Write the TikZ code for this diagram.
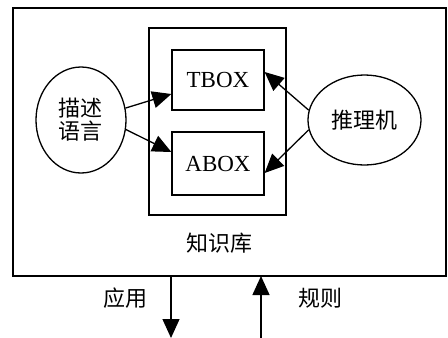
\documentclass[tikz,border=0pt]{standalone}
\usepackage{fontspec}
\setmainfont{Liberation Serif}
\newfontfamily\cjk{Noto Sans CJK SC}
\usetikzlibrary{arrows.meta,shapes.geometric}
\begin{document}
\begin{tikzpicture}[x=1pt,y=-1pt,
  line width=1.3pt,
  box/.style={draw,rectangle,inner sep=0pt},
  ell/.style={draw,ellipse,inner sep=0pt},
  arr/.style={-{Triangle[length=19pt,width=17pt]}},
  lbl/.style={font=\cjk\fontsize{22}{26}\selectfont}]
\useasboundingbox (0,0) rectangle (448,338);
\node[box,minimum width=433pt,minimum height=268pt] (outer) at (229.5,142) {};
\node[box,minimum width=137pt,minimum height=187pt] (kb) at (217.5,121.5) {};
\node[box,minimum width=92pt,minimum height=60pt,font=\fontsize{23}{27}\selectfont] (tbox) at (218,80) {TBOX};
\node[box,minimum width=92pt,minimum height=63pt,font=\fontsize{23}{27}\selectfont] (abox) at (218,163.5) {ABOX};
\node[ell,minimum width=90pt,minimum height=106pt,lbl,align=center] (desc) at (81,120) {描述\\[-3pt]语言};
\node[ell,minimum width=113pt,minimum height=90pt,lbl] (inf) at (364.5,120) {推理机};
\node[lbl] (kblbl) at (219,243) {知识库};
\node[lbl] (app) at (125,298) {应用};
\node[lbl] (rule) at (320,298) {规则};
\coordinate (d1) at (171,276);
\coordinate (d2) at (171,338);
\coordinate (u1) at (261,338);
\coordinate (u2) at (261,276);
\draw[arr] (desc.15) -- (tbox.west |- 0,94);
\draw[arr] (desc.-12) -- (abox.west |- 0,152);
\draw[arr] (inf.170) -- (tbox.east |- 0,72);
\draw[arr] (inf.190) -- (abox.east |- 0,173);
\draw[arr] (d1) -- (d2);
\draw[arr] (u1) -- (u2);
\end{tikzpicture}
\end{document}
